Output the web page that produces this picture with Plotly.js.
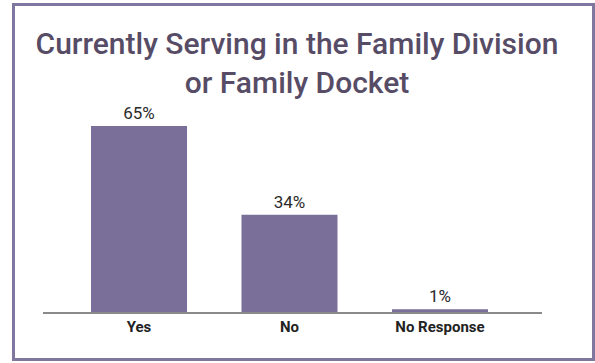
<!DOCTYPE html>
<html>
<head>
<meta charset="utf-8">
<script src="https://cdn.plot.ly/plotly-3.0.1.min.js"></script>
<style>html,body{margin:0;padding:0;background:#fff;}#chart{width:595px;height:363px;}</style>
</head>
<body>
<div id="chart"></div>
<script>
const categories = ["Yes", "No", "No Response"];
const values = [65, 34, 1];
const labels = ["65%", "34%", "1%"];

const W = 595, H = 363;
const M = {l: 43, r: 53, t: 100, b: 51};
const pw = W - M.l - M.r, ph = H - M.t - M.b;
const px = x => (x - M.l) / pw;
const py = y => (H - M.b - y) / ph;

const trace = {
  type: "bar",
  x: categories,
  y: values,
  text: labels,
  textposition: "outside",
  cliponaxis: false,
  textfont: {family: "Roboto, sans-serif", size: 17, color: "#2b2b2b"},
  marker: {color: "#7a6f98"},
  hoverinfo: "none"
};

const layout = {
  width: W, height: H,
  margin: M,
  paper_bgcolor: "#fff", plot_bgcolor: "#fff",
  showlegend: false,
  bargap: 0.362,
  title: {
    text: "Currently Serving in the Family Division<br>or Family Docket",
    font: {family: "Roboto, sans-serif", size: 30, color: "#574c66", weight: 500},
    x: px(297), xref: "paper", xanchor: "center",
    y: 1 - 54 / H, yref: "container", yanchor: "top"
  },
  xaxis: {
    type: "category",
    range: [-0.638, 2.678],
    showline: true, linecolor: "#8a8a8a", linewidth: 1.5,
    ticks: "", showgrid: false, zeroline: false,
    tickfont: {family: "Roboto, sans-serif", size: 15, color: "#222", weight: "bold"},
    fixedrange: true
  },
  yaxis: {
    range: [0, ph / 2.86],
    visible: false, showgrid: false, zeroline: false, fixedrange: true
  },
  shapes: [{
    type: "rect", xref: "paper", yref: "paper",
    x0: px(13.5), x1: px(593.5), y0: py(359.5), y1: py(4.5),
    line: {color: "#8077a0", width: 3}, fillcolor: "rgba(0,0,0,0)", layer: "below"
  }]
};

Plotly.newPlot("chart", [trace], layout, {displayModeBar: false, staticPlot: true});
</script>
</body>
</html>
